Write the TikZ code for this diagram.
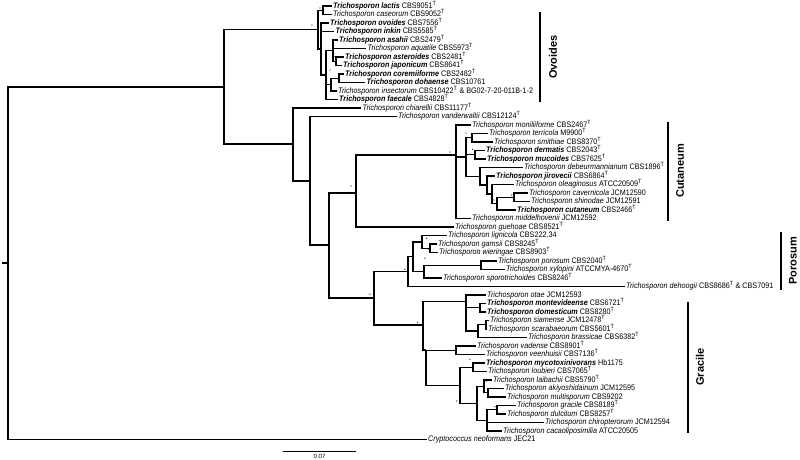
\documentclass[tikz,border=0pt]{standalone}
\usepackage{fontspec}
\setmainfont{Liberation Sans}
\newfontfamily\labfont{Liberation Sans}[FakeStretch=0.9]
\newcommand{\Sp}[2]{\textit{Trichosporon #1} #2}
\newcommand{\Bsp}[2]{\textbf{\textit{Trichosporon #1}} #2}
\newcommand{\Ty}{\textsuperscript{T}}
\tikzset{
  br/.style={line width=1.2pt},
  lf/.style={anchor=west, inner xsep=1.5pt, inner ysep=0pt, font=\labfont\fontsize{8}{8.5}\selectfont, text height=5.9pt, text depth=1.7pt},
  clade/.style={font=\fontsize{11}{12}\selectfont\bfseries, rotate=90, inner sep=0pt},
  cbar/.style={line width=1.6pt}
}
\begin{document}
\begin{tikzpicture}[x=1pt,y=-1pt]
\useasboundingbox (0,0) rectangle (800,460);
% leaves
\node[lf] (lactis) at (331.5,6) {\Bsp{lactis}{CBS9051\Ty}};
\node[lf] (caseorum) at (331.5,14.5) {\Sp{caseorum}{CBS9052\Ty}};
\node[lf] (ovoides) at (328.5,23) {\Bsp{ovoides}{CBS7556\Ty}};
\node[lf] (inkin) at (334,31.5) {\Bsp{inkin}{CBS5585\Ty}};
\node[lf] (asahii) at (337.5,40) {\Bsp{asahii}{CBS2479\Ty}};
\node[lf] (aquatile) at (366,48.5) {\Sp{aquatile}{CBS5973\Ty}};
\node[lf] (asteroides) at (343.5,57) {\Bsp{asteroides}{CBS2481\Ty}};
\node[lf] (japonicum) at (341.5,65.5) {\Bsp{japonicum}{CBS8641\Ty}};
\node[lf] (coremiiforme) at (343.5,74) {\Bsp{coremiiforme}{CBS2482\Ty}};
\node[lf] (dohaense) at (365,82.5) {\Bsp{dohaense}{CBS10761}};
\node[lf] (insectorum) at (336.5,91) {\Sp{insectorum}{CBS10422\Ty{} \& BG02-7-20-011B-1-2}};
\node[lf] (faecale) at (337.5,99.5) {\Bsp{faecale}{CBS4828\Ty}};
\node[lf] (chiarellii) at (361,108) {\Sp{chiarellii}{CBS11177\Ty}};
\node[lf] (vanderwaltii) at (396.5,116.5) {\Sp{vanderwaltii}{CBS12124\Ty}};
\node[lf] (moniliiforme) at (470.5,125) {\Sp{moniliiforme}{CBS2467\Ty}};
\node[lf] (terricola) at (487.5,133.5) {\Sp{terricola}{M9900\Ty}};
\node[lf] (smithiae) at (492.5,142) {\Sp{smithiae}{CBS8370\Ty}};
\node[lf] (dermatis) at (484.5,150.5) {\Bsp{dermatis}{CBS2043\Ty}};
\node[lf] (mucoides) at (485.5,159) {\Bsp{mucoides}{CBS7625\Ty}};
\node[lf] (debeur) at (522.5,167.5) {\Sp{debeurmannianum}{CBS1896\Ty}};
\node[lf] (jirovecii) at (494.5,176) {\Bsp{jirovecii}{CBS6864\Ty}};
\node[lf] (oleag) at (513.5,184.5) {\Sp{oleaginosus}{ATCC20509\Ty}};
\node[lf] (cavern) at (527.5,193) {\Sp{cavernicola}{JCM12590}};
\node[lf] (shinodae) at (529.5,201.5) {\Sp{shinodae}{JCM12591}};
\node[lf] (cutaneum) at (515.5,210) {\Bsp{cutaneum}{CBS2466\Ty}};
\node[lf] (middel) at (470.5,218.5) {\Sp{middelhovenii}{JCM12592}};
\node[lf] (guehoae) at (453.5,227) {\Sp{guehoae}{CBS8521\Ty}};
\node[lf] (lignicola) at (446.5,235.5) {\Sp{lignicola}{CBS222.34}};
\node[lf] (gamsii) at (436.5,244) {\Sp{gamsii}{CBS8245\Ty}};
\node[lf] (wieringae) at (437.5,252.5) {\Sp{wieringae}{CBS8903\Ty}};
\node[lf] (porosum) at (496.5,261) {\Sp{porosum}{CBS2040\Ty}};
\node[lf] (xylopini) at (504.5,269.5) {\Sp{xylopini}{ATCCMYA-4670\Ty}};
\node[lf] (sporo) at (441.5,278) {\Sp{sporotrichoides}{CBS8246\Ty}};
\node[lf] (dehoogii) at (624.5,286.5) {\Sp{dehoogii}{CBS8686\Ty{} \& CBS7091}};
\node[lf] (otae) at (485.5,295) {\Sp{otae}{JCM12593}};
\node[lf] (montev) at (485.5,303.5) {\Bsp{montevideense}{CBS6721\Ty}};
\node[lf] (domest) at (485.5,312) {\Bsp{domesticum}{CBS8280\Ty}};
\node[lf] (siamense) at (488.5,320.5) {\Sp{siamense}{JCM12478\Ty}};
\node[lf] (scarab) at (486.5,329) {\Sp{scarabaeorum}{CBS5601\Ty}};
\node[lf] (brass) at (526.5,337.5) {\Sp{brassicae}{CBS6382\Ty}};
\node[lf] (vadense) at (475.5,346) {\Sp{vadense}{CBS8901\Ty}};
\node[lf] (veenh) at (484.5,354.5) {\Sp{veenhuisii}{CBS7136\Ty}};
\node[lf] (myco) at (484.5,363) {\Bsp{mycotoxinivorans}{Hb1175}};
\node[lf] (loubieri) at (486.5,371.5) {\Sp{loubieri}{CBS7065\Ty}};
\node[lf] (laibachii) at (491.5,380) {\Sp{laibachii}{CBS5790\Ty}};
\node[lf] (akiyo) at (503.5,388.5) {\Sp{akiyoshidainum}{JCM12595}};
\node[lf] (multi) at (505.5,397) {\Sp{multisporum}{CBS9202}};
\node[lf] (gracile) at (515.5,405.5) {\Sp{gracile}{CBS8189\Ty}};
\node[lf] (dulcitum) at (505.5,414) {\Sp{dulcitum}{CBS8257\Ty}};
\node[lf] (chiro) at (543.5,422.5) {\Sp{chiropterorum}{JCM12594}};
\node[lf] (cacao) at (501.5,431) {\Sp{cacaoliposimilia}{ATCC20505}};
\node[lf] (crypto) at (426.5,439.5) {\textit{Cryptococcus neoformans} JEC21};
% internal nodes
\coordinate (Rt) at (2,263);
\coordinate (R) at (8,263);
\coordinate (N224) at (224,87);
\coordinate (O1) at (318,29.6);
\coordinate (LC) at (323,10.25);
\coordinate (O2) at (321,49);
\coordinate (A) at (326,75);
\coordinate (A1) at (333,50.6);
\coordinate (AJ) at (336,61.25);
\coordinate (A2) at (331,84.6);
\coordinate (CD) at (339,78.25);
\coordinate (N293) at (293,144);
\coordinate (N310) at (310,181);
\coordinate (N329) at (329,245);
\coordinate (N356) at (356,193);
\coordinate (C0) at (456,155);
\coordinate (C2) at (466,157);
\coordinate (TS) at (472,137.75);
\coordinate (DM) at (475,154.75);
\coordinate (C3) at (480,176.25);
\coordinate (J) at (487,185);
\coordinate (K) at (492,194);
\coordinate (K2) at (497,203.6);
\coordinate (L) at (514,197.25);
\coordinate (PG) at (374,298);
\coordinate (Pz) at (408,271.25);
\coordinate (P2) at (413,256.8);
\coordinate (LGW) at (422,242);
\coordinate (GW) at (430,248.25);
\coordinate (PXS) at (424,271.6);
\coordinate (PX) at (481,265.25);
\coordinate (G) at (423,325);
\coordinate (G1) at (466,301.4);
\coordinate (MD) at (480,307.75);
\coordinate (SSB) at (478,331);
\coordinate (SS) at (486,324.75);
\coordinate (G2) at (426,350);
\coordinate (VV) at (456,350.25);
\coordinate (G3) at (460,385.3);
\coordinate (ML) at (473,367.25);
\coordinate (G4) at (477,403.4);
\coordinate (LAM) at (484,386.4);
\coordinate (AM) at (488,392.75);
\coordinate (GDCC) at (487,420.4);
\coordinate (GD) at (497,409.75);
% branches
\draw[br] (Rt) -- (R);
\foreach \a/\b in {R/N224,R/crypto,N224/O1,N224/N293,O1/LC,O1/O2,LC/lactis,LC/caseorum,
  O2/ovoides,O2/inkin,O2/A,A/A1,A/A2,A/faecale,A1/asahii,A1/aquatile,A1/AJ,
  AJ/asteroides,AJ/japonicum,A2/CD,A2/insectorum,CD/coremiiforme,CD/dohaense,
  N293/chiarellii,N293/N310,N310/vanderwaltii,N310/N329,N329/N356,N329/PG,
  N356/C0,N356/guehoae,C0/moniliiforme,C0/C2,C0/middel,C2/TS,C2/DM,C2/C3,
  TS/terricola,TS/smithiae,DM/dermatis,DM/mucoides,C3/debeur,C3/J,J/jirovecii,J/K,
  K/oleag,K/K2,K2/L,K2/cutaneum,L/cavern,L/shinodae,
  PG/Pz,PG/G,Pz/P2,Pz/dehoogii,P2/LGW,P2/PXS,LGW/lignicola,LGW/GW,GW/gamsii,GW/wieringae,
  PXS/PX,PXS/sporo,PX/porosum,PX/xylopini,
  G/G1,G/G2,G1/otae,G1/MD,G1/SSB,MD/montev,MD/domest,SSB/SS,SSB/brass,SS/siamense,SS/scarab,
  G2/VV,G2/G3,VV/vadense,VV/veenh,G3/ML,G3/G4,ML/myco,ML/loubieri,G4/LAM,G4/GDCC,
  LAM/laibachii,LAM/AM,AM/akiyo,AM/multi,GDCC/GD,GDCC/chiro,GDCC/cacao,GD/gracile,GD/dulcitum}
  \draw[br] (\a) |- (\b);
% support dots
\foreach \p in {(312,25),(320,8),(335,56.5),(330,70),(339,76.7),(450,152),(466,133),(472.7,149.3),
  (491.7,176.7),(486.7,190),(494,200),(511.7,195),(351,186),(370,294.3),(405,269.3),
  (426.7,238.3),(428.3,249),(424,269.3),(425,258.3),(412.7,255),(479,253.3),(417.7,322.3),
  (470,359.3),(486.7,381),(484.3,388.3),(476.7,401),(456.7,401),(495,406.7)}
  \fill \p circle (0.6pt);
% clade bars and labels
\coordinate (ovT) at (540,12); \coordinate (ovB) at (540,102);
\coordinate (cuT) at (667.7,121.7); \coordinate (cuB) at (667.7,220.7);
\coordinate (poT) at (781,232); \coordinate (poB) at (781,290);
\coordinate (grT) at (688,301.7); \coordinate (grB) at (688,433);
\draw[cbar] (ovT) -- (ovB);
\draw[cbar] (cuT) -- (cuB);
\draw[cbar] (poT) -- (poB);
\draw[cbar] (grT) -- (grB);
\node[clade] (ovL) at (553,57) {Ovoides};
\node[clade] (cuL) at (680,171) {Cutaneum};
\node[clade] (poL) at (793,261) {Porosum};
\node[clade] (grL) at (700,367) {Gracile};
% scale bar
\coordinate (sbA) at (283,451); \coordinate (sbB) at (356,451);
\draw[line width=1pt] (sbA) -- (sbB);
\node[font=\fontsize{6}{7}\selectfont, inner sep=0pt] (sbL) at (319.5,456.2) {0.07};
\end{tikzpicture}
\end{document}
